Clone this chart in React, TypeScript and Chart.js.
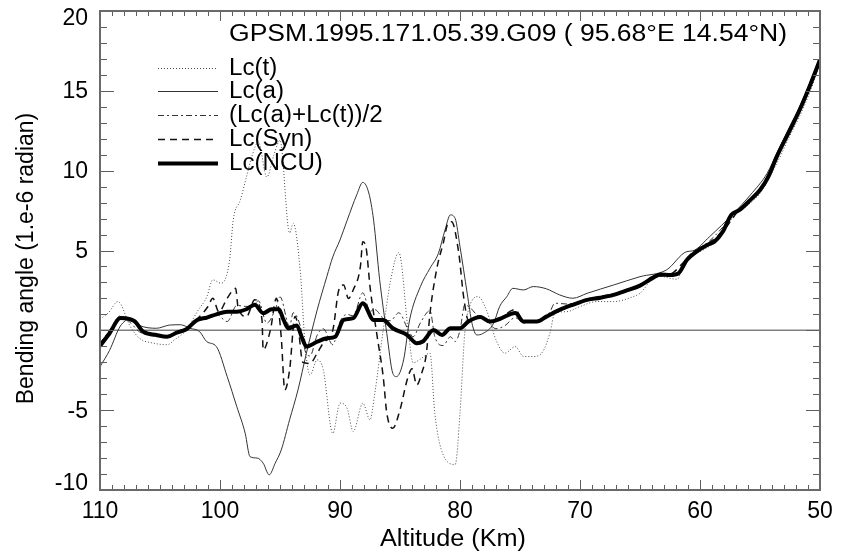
import React, { useEffect, useRef } from 'react';
import { Chart, registerables } from 'chart.js';

Chart.register(...registerables);

const TITLE = 'GPSM.1995.171.05.39.G09 ( 95.68°E 14.54°N)';
const X_TITLE = 'Altitude (Km)';
const Y_TITLE = 'Bending angle (1.e-6 radian)';
const X_TICKS = [110, 100, 90, 80, 70, 60, 50];
const Y_TICKS = [-10, -5, 0, 5, 10, 15, 20];
const SERIES_NAMES = ['Lc(t)', 'Lc(a)', '(Lc(a)+Lc(t))/2', 'Lc(Syn)', 'Lc(NCU)'];
const ZERO_ALT = [110, 50];
const ZERO_VAL = [0, 0];

// Lc(t) (dotted)
const altT = [110, 109.3, 108.5, 107.5, 106.7, 105.5, 104.4, 103.8, 102.8, 101.9, 101.1, 100.6, 99.9, 99.2, 98.9, 98.3, 97.8, 97.3, 96.8, 96.1, 95.5, 95.0, 94.2, 93.9, 93.3, 92.9, 92.5, 91.9, 91.4, 90.6, 90.0, 89.4, 88.9, 88.1, 87.5, 87.1, 86.4, 85.8, 85.1, 84.3, 83.9, 83.3, 82.5, 82.1, 81.4, 80.4, 80.0, 79.6, 79.2, 78.5, 77.8, 77.0, 76.25, 75.4, 74.7, 73.9, 73.1, 72.5, 72.1, 71.1, 70.0, 68.6, 67.2, 65.6, 65.0, 63.6, 61.9, 61.4, 58.6, 57.2, 55.0, 53.6, 52.5, 51.7, 50.8, 50];
const lcT = [0.7, 1.1, 1.8, 0.27, -0.5, -0.81, -0.9, -0.6, 0.02, 1.17, 2.1, 3.16, 2.95, 4.4, 6.9, 8.17, 9.6, 11.0, 11.8, 9.6, 11.0, 11.9, 6.1, 6.7, 3.6, -1.0, -2.8, -1.85, -2.45, -6.45, -4.56, -4.9, -6.34, -4.56, -5.6, -3.94, 0.02, 3.05, 4.87, -0.15, -2.03, -1.8, -1.43, -5.19, -7.8, -8.4, -5.19, -0.15, 1.49, 2.11, 1.28, -0.6, -1.43, -1.02, -1.64, -1.64, -1.33, -0.15, 1.07, 1.17, 1.49, 1.8, 1.8, 2.1, 2.32, 3.41, 3.2, 4.0, 5.66, 7.12, 8.58, 10.46, 12.2, 13.4, 15.0, 16.7];

// Lc(a) (solid thin)
const altA = [110, 109.2, 108.3, 107.5, 106.7, 105.3, 104.2, 103.3, 102.5, 101.7, 101.1, 100.3, 99.4, 98.6, 97.9, 97.5, 96.9, 96.4, 95.9, 95.4, 94.9, 94.2, 93.5, 92.8, 91.9, 91.1, 90.6, 90.0, 89.4, 88.6, 88.1, 87.6, 87.2, 86.7, 86.1, 85.6, 85.3, 84.7, 84.2, 83.3, 82.5, 81.8, 81.25, 80.8, 80.4, 80.0, 79.4, 79.0, 78.6, 78.1, 77.2, 76.7, 76.1, 75.6, 74.7, 73.9, 72.8, 71.7, 70.6, 69.4, 67.2, 65.0, 62.8, 61.1, 60.6, 59.2, 57.2, 55.8, 54.4, 53.6, 52.5, 51.7, 50.8, 50];
const lcA = [-2.28, -1.25, 0.27, 0.7, 0.3, 0.13, 0.33, 0.35, 0.13, -0.08, -0.71, -1.02, -2.9, -4.78, -6.45, -7.91, -8.0, -8.32, -9.05, -8.32, -7.5, -5.6, -3.73, -1.43, 1.28, 3.36, 4.6, 5.66, 6.9, 8.5, 9.27, 8.6, 6.9, 3.2, -0.2, -2.69, -2.9, -1.85, 0.65, 2.74, 3.89, 4.82, 6.28, 7.23, 7.0, 5.24, 2.32, 0.44, -0.29, -0.2, 0.44, 1.49, 2.11, 2.63, 2.53, 2.74, 2.6, 2.22, 2.01, 2.32, 2.84, 3.36, 3.78, 4.93, 4.98, 5.87, 7.33, 8.48, 9.84, 11.09, 12.8, 14.0, 15.6, 17.1];

// (Lc(a)+Lc(t))/2 (dash-dot)
const altD = [110, 109.2, 108.3, 107.5, 106.7, 105.3, 104.2, 103.3, 102.5, 101.7, 101.1, 100.3, 99.4, 98.6, 97.9, 97.3, 96.8, 96.1, 95.4, 95.0, 94.2, 93.9, 93.3, 92.9, 92.5, 91.9, 91.4, 90.6, 90.0, 89.4, 88.9, 88.1, 87.5, 87.1, 86.4, 85.8, 85.1, 84.3, 83.9, 83.3, 82.5, 82.1, 81.4, 80.8, 80.4, 80.0, 79.6, 79.2, 78.5, 77.8, 77.0, 76.25, 75.4, 74.7, 73.9, 73.1, 72.5, 72.1, 71.1, 70.0, 68.6, 67.2, 65.0, 63.6, 61.9, 61.1, 59.2, 57.2, 55.0, 53.6, 51.7, 50];
const lcD = [-0.8, 0.0, 0.9, 0.5, -0.1, -0.35, -0.3, 0.0, 0.2, 0.65, 0.7, 1.0, 0.55, 1.56, 1.5, 1.5, 1.85, 0.45, 1.3, 2.1, 0.25, 1.1, 0.25, -1.3, -1.6, -0.3, 0.1, -0.9, 0.55, 1.0, 0.9, 2.35, 1.2, 1.3, 0.75, 0.6, 1.1, 0.0, -0.4, 0.47, 1.23, -0.4, -0.95, -0.4, -0.7, 0.0, 1.6, 1.45, 0.9, 0.64, 0.1, 0.3, 0.8, 0.45, 0.55, 0.66, 1.17, 1.7, 1.65, 1.8, 2.1, 2.3, 2.85, 3.5, 3.6, 4.55, 5.6, 7.2, 8.75, 10.8, 13.7, 16.9];

// Lc(Syn) (dashed)
const altS = [110, 109.2, 108.3, 107.5, 106.4, 105.3, 104.4, 103.6, 102.8, 101.7, 101.0, 100.6, 100.1, 99.4, 98.7, 98.5, 97.8, 97.1, 96.5, 96.4, 95.8, 95.3, 94.9, 94.6, 94.2, 93.75, 93.5, 93.1, 92.5, 91.9, 91.4, 90.6, 90.1, 89.7, 89.3, 88.9, 88.3, 88.1, 87.8, 87.5, 86.9, 86.4, 86.1, 85.6, 85.0, 84.4, 84.0, 83.6, 83.2, 82.8, 82.5, 81.9, 81.4, 81.0, 80.7, 80.1, 79.7, 79.3, 78.3, 77.5, 76.7, 75.4, 74.7, 73.6, 72.8, 71.7, 70.6, 69.4, 68.3, 67.2, 66.1, 65, 63.9, 62.5, 61.1, 59.4, 58.1, 56.7, 55, 53.6, 52.5, 51.7, 50.8, 50];
const lcS = [-0.9, -0.1, 0.8, 0.75, -0.05, -0.3, -0.35, -0.1, 0.1, 0.86, 1.49, 2.01, 1.16, 2.01, 2.63, 1.49, 0.86, 1.91, 0.65, -1.22, 0.02, 2.01, -0.4, -3.73, -2.48, 0.86, 0.27, -2.0, -2.07, -1.43, -0.8, 0.0, 2.53, 2.84, 2.0, 2.53, 4.0, 5.55, 5.05, 2.74, -0.4, -2.9, -5.19, -6.13, -4.98, -3.1, -2.4, -3.42, -2.7, -1.43, 1.07, 3.99, 5.45, 6.7, 6.8, 4.82, 2.11, 0.65, 0.9, 0.6, 0.75, 1.3, 0.6, 0.6, 0.9, 1.3, 1.65, 1.95, 2.1, 2.25, 2.55, 2.85, 3.35, 3.5, 4.45, 5.4, 6.2, 7.6, 8.8, 10.9, 12.55, 13.8, 15.4, 16.95];

// Lc(NCU) (thick)
const altN = [110, 109.2, 108.3, 107.5, 107.1, 106.4, 105.3, 104.4, 103.6, 102.8, 101.9, 101.1, 100.3, 99.4, 98.6, 97.8, 97.1, 96.4, 95.7, 95.1, 94.7, 94.3, 93.6, 93.2, 92.8, 91.9, 91.1, 90.4, 89.7, 88.9, 88.1, 87.2, 86.4, 85.6, 84.4, 83.6, 83.1, 82.2, 81.5, 80.8, 80, 79.3, 78.3, 77.5, 76.7, 75.4, 74.7, 73.6, 72.8, 71.7, 70.6, 69.4, 68.3, 67.2, 66.1, 65, 63.9, 63.3, 62.5, 61.8, 61.1, 60.3, 59.4, 58.8, 58.1, 57.4, 56.7, 55.8, 55, 54.3, 53.6, 52.5, 51.7, 50.8, 50];
const lcN = [-0.98, -0.18, 0.77, 0.7, 0.56, -0.08, -0.29, -0.4, -0.14, 0.07, 0.65, 0.8, 1.0, 1.17, 1.17, 1.32, 1.6, 1.07, 1.32, 1.32, 0.65, 0.13, 0.3, -0.4, -1.02, -0.71, -0.5, -0.4, 0.65, 0.76, 1.7, 0.65, 0.65, 0.13, -0.29, -0.81, -0.7, 0.02, -0.29, 0.13, 0.13, 0.55, 0.83, 0.55, 0.71, 1.09, 0.55, 0.55, 0.86, 1.28, 1.6, 1.91, 2.04, 2.22, 2.5, 2.8, 3.3, 3.5, 3.46, 3.57, 4.4, 4.93, 5.35, 5.55, 6.18, 7.23, 7.54, 8.17, 8.79, 9.63, 10.88, 12.55, 13.8, 15.4, 16.95];

const X_MIN = 50;
const X_MAX = 110;
const Y_MIN = -10;
const Y_MAX = 20;

const FONT = '"Liberation Sans", Arial, Helvetica, sans-serif';

const STYLES = [
  { color: '#4a4a4a', width: 1, dash: [1, 2] },
  { color: '#333333', width: 1, dash: [] as number[] },
  { color: '#333333', width: 1, dash: [6, 3, 2, 3] },
  { color: '#111111', width: 1.5, dash: [7, 5] },
  { color: '#000000', width: 4, dash: [] as number[] },
];

const pts = (xs: number[], ys: number[]) => xs.map((x, i) => ({ x, y: ys[i] }));

// draw text stretched horizontally to a given width (IDL font is wider than Arial)
function drawWide(ctx: CanvasRenderingContext2D, text: string, x: number, y: number, width: number, align: 'left' | 'center') {
  const w = ctx.measureText(text).width;
  const sx = width / w;
  ctx.save();
  ctx.textAlign = 'left';
  const left = align === 'center' ? x - width / 2 : x;
  ctx.translate(left, y);
  ctx.scale(sx, 1);
  ctx.fillText(text, 0, 0);
  ctx.restore();
}

const idlPlugin = {
  id: 'idlFrame',
  afterDraw(chart: any) {
    const { ctx, chartArea: a, scales } = chart;
    const xs = scales.x;
    const ys = scales.y;
    ctx.save();

    // inward ticks
    ctx.strokeStyle = '#5e5e5e';
    ctx.lineWidth = 1;
    ctx.setLineDash([]);
    ctx.beginPath();
    for (let v = X_MIN; v <= X_MAX; v += 1) {
      const px = Math.round(xs.getPixelForValue(v)) + 0.5;
      const len = v % 10 === 0 ? 10 : 5;
      ctx.moveTo(px, a.bottom);
      ctx.lineTo(px, a.bottom - len);
      ctx.moveTo(px, a.top);
      ctx.lineTo(px, a.top + len);
    }
    for (let v = Y_MIN; v <= Y_MAX; v += 1) {
      const py = Math.round(ys.getPixelForValue(v)) + 0.5;
      const len = v % 5 === 0 ? 14 : 7;
      ctx.moveTo(a.left, py);
      ctx.lineTo(a.left + len, py);
      ctx.moveTo(a.right, py);
      ctx.lineTo(a.right - len, py);
    }
    ctx.stroke();

    // frame
    ctx.strokeStyle = '#6a6a6a';
    ctx.lineWidth = 2;
    ctx.strokeRect(a.left, a.top, a.right - a.left, a.bottom - a.top);

    // tick labels
    ctx.fillStyle = '#000';
    ctx.font = `23px ${FONT}`;
    ctx.textAlign = 'center';
    ctx.textBaseline = 'middle';
    X_TICKS.forEach((v) => {
      ctx.fillText(String(v), xs.getPixelForValue(v), a.bottom + 22);
    });
    ctx.textAlign = 'right';
    Y_TICKS.forEach((v) => {
      let py = ys.getPixelForValue(v);
      py = Math.min(Math.max(py, a.top + 7), a.bottom - 7);
      ctx.fillText(String(v), a.left - 12, py + 1);
    });

    // axis titles
    drawWide(ctx, X_TITLE, (a.left + a.right) / 2 - 7, a.bottom + 50, 146, 'center');
    ctx.save();
    ctx.translate(27, (a.top + a.bottom) / 2 + 8);
    ctx.rotate(-Math.PI / 2);
    ctx.textAlign = 'center';
    ctx.fillText(Y_TITLE, 0, 0);
    ctx.restore();

    // title
    drawWide(ctx, TITLE, 229, 35, 558, 'left');

    // legend
    const rowY = [68, 91, 115, 139, 163];
    SERIES_NAMES.forEach((name, i) => {
      const st = STYLES[i];
      ctx.strokeStyle = st.color;
      ctx.lineWidth = st.width;
      ctx.setLineDash(st.dash);
      ctx.beginPath();
      ctx.moveTo(158, rowY[i] + 0.5);
      ctx.lineTo(218, rowY[i] + 0.5);
      ctx.stroke();
      ctx.setLineDash([]);
      ctx.fillStyle = '#000';
      const w = ctx.measureText(name).width;
      drawWide(ctx, name, 229, rowY[i] + 1, w * 1.05, 'left');
    });
    ctx.restore();
  },
};

export default function App() {
  const ref = useRef<HTMLCanvasElement | null>(null);
  useEffect(() => {
    document.body.style.margin = '0';
    const canvas = ref.current;
    if (!canvas) return;
    const series = [
      pts(altT, lcT),
      pts(altA, lcA),
      pts(altD, lcD),
      pts(altS, lcS),
      pts(altN, lcN),
    ];
    const datasets: any[] = series.map((data, i) => ({
      label: SERIES_NAMES[i],
      data,
      borderColor: STYLES[i].color,
      borderWidth: STYLES[i].width,
      borderDash: STYLES[i].dash,
      pointRadius: 0,
      fill: false,
      cubicInterpolationMode: 'monotone',
      order: 5 - i,
    }));
    datasets.push({
      label: 'zero',
      data: pts(ZERO_ALT, ZERO_VAL),
      borderColor: '#808080',
      borderWidth: 1.5,
      pointRadius: 0,
      fill: false,
      order: 10,
    });
    const chart = new Chart(canvas, {
      type: 'line',
      data: { datasets },
      options: {
        responsive: false,
        animation: false,
        layout: { padding: { left: 100, top: 11, right: 25, bottom: 67 } },
        plugins: { legend: { display: false }, tooltip: { enabled: false } },
        scales: {
          x: { type: 'linear', min: X_MIN, max: X_MAX, reverse: true, display: false },
          y: { type: 'linear', min: Y_MIN, max: Y_MAX, display: false },
        },
      },
      plugins: [idlPlugin],
    });
    return () => chart.destroy();
  }, []);
  return (
    <div style={{ position: 'absolute', left: 0, top: 0, width: 845, height: 557, background: '#fff' }}>
      <canvas ref={ref} width={845} height={557} />
    </div>
  );
}
